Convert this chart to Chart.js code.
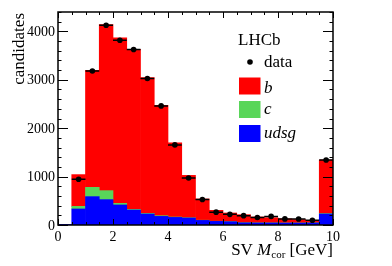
<!DOCTYPE html>
<html>
<head>
<meta charset="utf-8">
<script src="https://cdn.jsdelivr.net/npm/chart.js@4.4.1/dist/chart.umd.min.js"></script>
<style>
html, body { margin: 0; padding: 0; background: #fff; }
#wrap { width: 392px; height: 266px; }
</style>
</head>
<body>
<div id="wrap"><canvas id="chart" width="392" height="266"></canvas></div>
<script>
// SV corrected mass, bins of 0.5 GeV
const binCenters = [0.25, 0.75, 1.25, 1.75, 2.25, 2.75, 3.25, 3.75, 4.25, 4.75,
                    5.25, 5.75, 6.25, 6.75, 7.25, 7.75, 8.25, 8.75, 9.25, 9.75];
const udsgCounts = [12, 331, 586, 524, 414, 310, 228, 178, 157, 145,
                    95, 75, 68, 45, 42, 42, 40, 40, 42, 228];
const cCounts    = [0, 54, 192, 186, 33, 13, 12, 14, 8, 5,
                    4, 3, 3, 2, 2, 2, 2, 2, 2, 8];
const bCounts    = [0, 656, 2417, 3430, 3418, 3307, 2805, 2281, 1530, 875,
                    439, 225, 177, 166, 122, 107, 86, 70, 53, 1107];
const dataCounts = [null, 945, 3180, 4126, 3815, 3625, 3025, 2460, 1655, 970,
                    526, 265, 220, 193, 155, 178, 126, 124, 98, 1343];
const binHalfWidth = 0.25;

const xTickLabels = [0, 2, 4, 6, 8, 10];
const yTickLabels = [0, 1000, 2000, 3000, 4000];

const colors = {
    b: '#ff0000',
    c: '#59d659',
    udsg: '#0000ff',
    data: '#000000'
};

const serif = '"Liberation Serif", "DejaVu Serif", serif';

function toPoints(values) {
    return binCenters
        .map((x, i) => ({ x: x, y: values[i] }))
        .filter(p => p.y !== null);
}

function drawTicks(ctx, area, xs, ys) {
    ctx.save();
    ctx.strokeStyle = '#000';
    ctx.lineWidth = 1;
    ctx.beginPath();
    for (let v = 0; v <= 10.001; v += 0.5) {
        const px = Math.round(xs.getPixelForValue(v)) + 0.5;
        const len = Math.abs(v % 2) < 1e-6 ? 6 : 3;
        ctx.moveTo(px, area.bottom);
        ctx.lineTo(px, area.bottom - len);
        ctx.moveTo(px, area.top);
        ctx.lineTo(px, area.top + len);
    }
    for (let v = 0; v <= 4400; v += 200) {
        const py = Math.round(ys.getPixelForValue(v)) + 0.5;
        const len = v % 1000 === 0 ? 10 : 3.5;
        ctx.moveTo(area.left, py);
        ctx.lineTo(area.left + len, py);
        ctx.moveTo(area.right, py);
        ctx.lineTo(area.right - len, py);
    }
    ctx.stroke();

    ctx.lineWidth = 1.5;
    ctx.strokeRect(area.left, area.top, area.right - area.left, area.bottom - area.top);
    ctx.restore();
}

function drawTickLabels(ctx, area, xs, ys) {
    ctx.save();
    ctx.fillStyle = '#000';
    ctx.font = '14px ' + serif;
    ctx.textAlign = 'center';
    ctx.textBaseline = 'alphabetic';
    xTickLabels.forEach(v => {
        ctx.fillText(String(v), xs.getPixelForValue(v), area.bottom + 16);
    });
    ctx.textAlign = 'right';
    yTickLabels.forEach(v => {
        ctx.fillText(String(v), area.left - 3, ys.getPixelForValue(v) + 4.7);
    });
    ctx.restore();
}

function drawTitles(ctx, area) {
    ctx.save();
    ctx.fillStyle = '#000';

    // y title, right aligned at top of axis
    ctx.font = '17px ' + serif;
    ctx.translate(24, area.top + 1);
    ctx.rotate(-Math.PI / 2);
    ctx.textAlign = 'right';
    ctx.fillText('candidates', 0, 0);
    ctx.restore();

    // x title with italic M and subscript
    ctx.save();
    ctx.fillStyle = '#000';
    const parts = [
        { text: 'SV ', font: '17px ' + serif, dy: 0 },
        { text: 'M', font: 'italic 17px ' + serif, dy: 0 },
        { text: 'cor', font: '11px ' + serif, dy: 3 },
        { text: ' [GeV]', font: '17px ' + serif, dy: 0 }
    ];
    let total = 0;
    parts.forEach(p => {
        ctx.font = p.font;
        p.w = ctx.measureText(p.text).width;
        total += p.w;
    });
    let x = area.right - total;
    const baseline = 254.5;
    ctx.textAlign = 'left';
    parts.forEach(p => {
        ctx.font = p.font;
        ctx.fillText(p.text, x, baseline + p.dy);
        x += p.w;
    });
    ctx.restore();
}

function drawLegend(ctx) {
    ctx.save();
    ctx.fillStyle = '#000';
    ctx.textAlign = 'left';
    ctx.font = '17px ' + serif;
    ctx.fillText('LHCb', 238, 44.5);

    ctx.beginPath();
    ctx.arc(250, 62, 2.8, 0, Math.PI * 2);
    ctx.fill();
    ctx.fillText('data', 264, 66.5);

    const entries = [
        { label: 'b', color: colors.b, top: 77.5, base: 92.5 },
        { label: 'c', color: colors.c, top: 101, base: 113.5 },
        { label: 'udsg', color: colors.udsg, top: 125, base: 137.5 }
    ];
    entries.forEach(e => {
        ctx.fillStyle = e.color;
        ctx.fillRect(239, e.top, 21.5, 17);
        ctx.fillStyle = '#000';
        ctx.font = 'italic 17px ' + serif;
        ctx.fillText(e.label, 264, e.base);
    });
    ctx.restore();
}

const lhcbPlugin = {
    id: 'lhcbStyle',
    beforeDatasetDraw(chart, args) {
        if (args.index !== 0) {
            return;
        }
        const ctx = chart.ctx;
        const xs = chart.scales.x;
        const ys = chart.scales.y;
        ctx.save();
        ctx.strokeStyle = colors.data;
        ctx.lineWidth = 1.5;
        ctx.beginPath();
        toPoints(dataCounts).forEach(p => {
            const py = ys.getPixelForValue(p.y);
            ctx.moveTo(xs.getPixelForValue(p.x - binHalfWidth), py);
            ctx.lineTo(xs.getPixelForValue(p.x + binHalfWidth), py);
        });
        ctx.stroke();
        ctx.restore();
    },
    afterDraw(chart) {
        const ctx = chart.ctx;
        const area = chart.chartArea;
        drawTicks(ctx, area, chart.scales.x, chart.scales.y);
        drawTickLabels(ctx, area, chart.scales.x, chart.scales.y);
        drawTitles(ctx, area);
        drawLegend(ctx);
    }
};

new Chart(document.getElementById('chart'), {
    type: 'bar',
    data: {
        datasets: [
            {
                type: 'scatter',
                label: 'data',
                data: toPoints(dataCounts),
                stack: 'data',
                backgroundColor: colors.data,
                borderColor: colors.data,
                pointRadius: 2.8,
                borderWidth: 0
            },
            { label: 'udsg', data: toPoints(udsgCounts), stack: 'mc', backgroundColor: colors.udsg },
            { label: 'c', data: toPoints(cCounts), stack: 'mc', backgroundColor: colors.c },
            { label: 'b', data: toPoints(bCounts), stack: 'mc', backgroundColor: colors.b }
        ]
    },
    options: {
        responsive: false,
        animation: false,
        layout: {
            padding: { left: 58, right: 59, top: 12, bottom: 41 }
        },
        datasets: {
            bar: {
                barPercentage: 1,
                categoryPercentage: 1,
                borderWidth: 0
            }
        },
        plugins: {
            legend: { display: false },
            tooltip: { enabled: false }
        },
        scales: {
            x: { type: 'linear', min: 0, max: 10, stacked: true, offset: false, display: false },
            y: { type: 'linear', min: 0, max: 4400, stacked: true, display: false }
        }
    },
    plugins: [lhcbPlugin]
});
</script>
</body>
</html>
